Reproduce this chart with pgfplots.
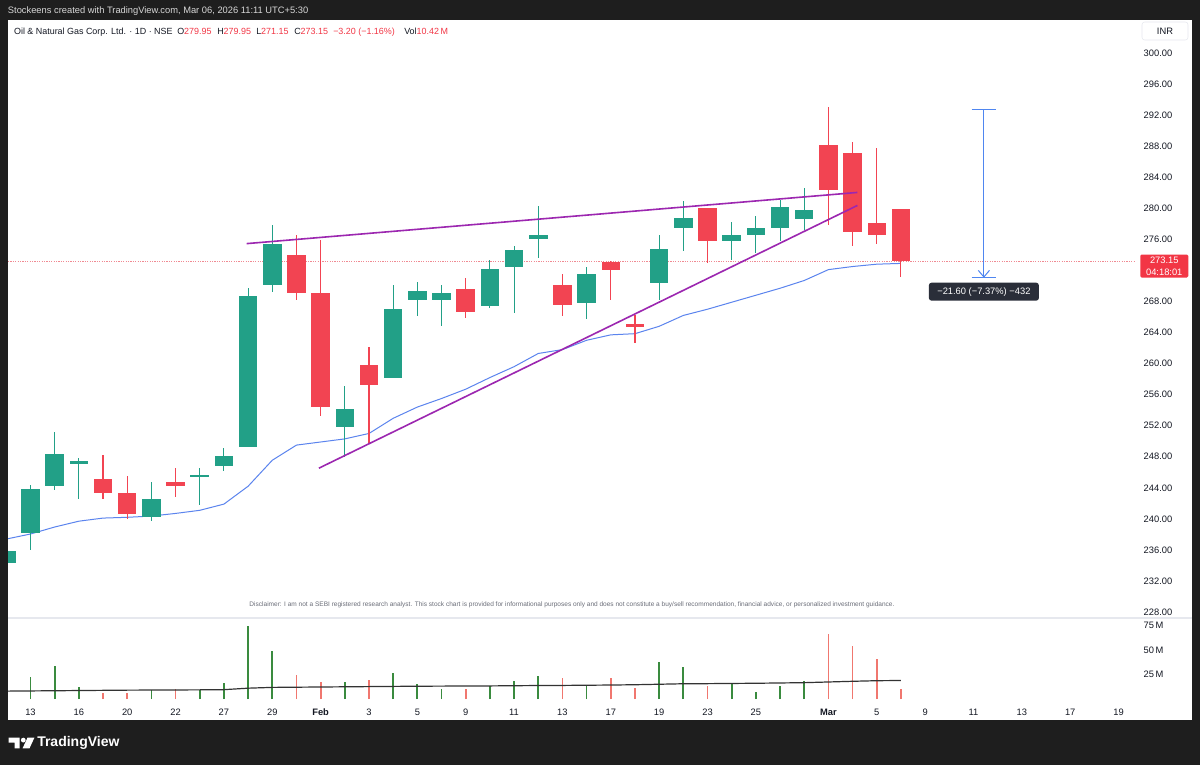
\documentclass[border=0pt]{standalone}
\usepackage{pgfplots}
\pgfplotsset{compat=1.18}
\usepackage{pgfplotstable}
\usepackage{fontspec}
\setmainfont{Liberation Sans}
\definecolor{bg}{HTML}{1E1E1E}
\definecolor{tvup}{HTML}{22A087}
\definecolor{tvdn}{HTML}{F24452}
\definecolor{tvred}{HTML}{F23645}
\definecolor{tvtext}{HTML}{131722}
\definecolor{maline}{HTML}{5B84EE}
\definecolor{trend}{HTML}{9C27B0}
\definecolor{measure}{HTML}{4F86F0}
\definecolor{vgreen}{HTML}{3A8B3F}
\definecolor{vred}{HTML}{F0776F}
\definecolor{sep}{HTML}{E6E8EE}
\definecolor{titlegray}{HTML}{D8D8D8}
\definecolor{boxdark}{HTML}{2A2E39}
\definecolor{discl}{HTML}{6A6D78}
\definecolor{dotred}{HTML}{F08A92}

\pgfplotstableread{
i o h l c
0 234.3 236.1 234.0 235.9
1 238.2 244.4 236.0 243.9
2 244.2 251.2 243.7 248.4
3 247.1 247.9 242.6 247.4
6 240.2 244.7 239.7 242.5
8 245.4 246.5 241.8 245.6
9 246.8 249.1 246.1 248.1
10 249.3 269.75 249.2 268.7
11 270.1 277.9 269.2 275.45
14 251.8 257.1 248.0 254.1
16 258.2 270.1 258.1 267.0
17 268.2 270.5 266.1 269.3
18 268.2 270.1 264.8 269.1
20 267.4 273.3 267.2 272.2
21 272.4 275.2 266.5 274.6
22 276.1 280.3 273.6 276.5
24 267.8 272.4 265.8 271.6
27 270.4 276.5 268.25 274.7
28 277.5 280.9 274.46 278.7
30 275.75 278.2 273.3 276.6
31 276.6 279.05 274.3 277.5
32 277.5 281.1 275.75 280.2
33 278.6 282.6 277.25 279.8
}\upcandles

\pgfplotstableread{
i o h l c
4 245.15 248.2 242.5 243.3
5 243.3 245.5 240.0 240.6
7 244.8 246.6 242.8 244.2
12 274.0 276.6 268.2 269.1
13 269.1 275.96 253.3 254.4
15 259.8 262.1 249.8 257.2
19 269.6 271.0 265.85 266.7
23 270.1 271.5 266.1 267.5
25 273.1 273.2 268.2 272.0
26 265.1 266.2 262.7 264.75
29 280.0 280.05 272.9 275.75
34 288.1 293.1 277.8 282.3
35 287.1 288.5 275.2 277.0
36 278.1 287.8 275.45 276.5
37 279.95 279.95 271.15 273.15
}\downcandles

\pgfplotstableread{
i ma
0 237.4
1 238.05
2 238.95
3 239.7
4 240.1
5 240.2
6 240.36
7 240.7
8 241.1
9 241.9
10 244.2
11 247.55
12 249.5
13 249.9
14 250.3
15 251.0
16 252.95
17 254.4
18 255.5
19 256.7
20 258.2
21 259.6
22 261.3
23 261.8
24 263.0
25 263.7
26 263.85
27 264.8
28 266.2
29 267.0
30 267.9
31 268.8
32 269.7
33 270.7
34 272.1
35 272.5
36 272.8
37 272.9
}\maline

\pgfplotstableread{
i v
1 22.4
2 33.2
3 12.2
6 9.5
8 9.1
9 16.0
10 73.9
11 48.5
14 17.3
16 26.4
17 15.2
18 10.5
20 13.2
21 18.3
22 23.0
24 13.9
27 37.9
28 32.5
30 16.3
31 7.4
32 13.5
33 18.6
}\volup

\pgfplotstableread{
i v
4 6.1
5 6.1
7 10.5
12 24.4
13 17.3
15 19.6
19 10.5
23 21.0
25 21.7
26 11.5
29 13.2
34 66.4
35 54.2
36 41.0
37 10.42
}\voldn

\pgfplotstableread{
i vma
0 8.0
1 8.2
2 8.4
3 8.6
4 8.8
5 9.0
6 9.1
7 9.2
8 9.3
9 9.5
10 11.0
11 11.8
12 12.0
13 12.2
14 12.4
15 12.6
16 12.8
17 13.0
18 13.1
19 13.2
20 13.3
21 13.5
22 13.7
23 13.8
24 14.0
25 14.2
26 14.5
27 15.0
28 15.5
29 15.6
30 15.8
31 16.0
32 16.3
33 16.6
34 17.3
35 18.0
36 18.6
37 18.8
}\volma

\newcommand\sz{\fontsize{7}{8.5}\selectfont}
\newcommand\lgd{\fontsize{6.7}{8}\selectfont}

\begin{document}
\begin{tikzpicture}
\useasboundingbox (0,0) rectangle (900pt,573.75pt);
\begin{scope}[x=0.75pt,y=-0.75pt,shift={(0pt,573.75pt)}]
  \fill[bg] (0,0) rectangle (1200,765);
  \fill[white] (8,20) rectangle (1192,720);
  \fill[sep] (8,616.5) rectangle (1192,618.5);
  \node[anchor=west, inner sep=0pt, text=titlegray, font=\sz] at (7.7,11) {Stockeens created with TradingView.com, Mar 06, 2026 11:11 UTC+5:30};
  \node[anchor=base west, inner sep=0pt, text=tvtext, font=\lgd] at (13.8,34.5) {Oil \& Natural Gas Corp. Ltd. · 1D · NSE};
  \node[anchor=base west, inner sep=0pt, text=tvtext, font=\lgd] at (177,34.5) {O\textcolor{tvred}{279.95}};
  \node[anchor=base west, inner sep=0pt, text=tvtext, font=\lgd] at (217,34.5) {H\textcolor{tvred}{279.95}};
  \node[anchor=base west, inner sep=0pt, text=tvtext, font=\lgd] at (256,34.5) {L\textcolor{tvred}{271.15}};
  \node[anchor=base west, inner sep=0pt, text=tvtext, font=\lgd] at (294,34.5) {C\textcolor{tvred}{273.15}};
  \node[anchor=base west, inner sep=0pt, text=tvred, font=\lgd] at (333,34.5) {−3.20 (−1.16\%)};
  \node[anchor=base west, inner sep=0pt, text=tvtext, font=\lgd] at (404,34.5) {Vol\textcolor{tvred}{10.42\,M}};
  \node[draw=sep, fill=white, rounded corners=2pt, minimum width=34.5pt, minimum height=13.5pt, inner sep=0pt, text=tvtext, font=\sz] at (1165,31) {INR};
  \node[inner sep=0pt, text=discl, font=\fontsize{4.9}{6}\selectfont] at (572,605) {Disclaimer: I am not a SEBI registered research analyst. This stock chart is provided for informational purposes only and does not constitute a buy/sell recommendation, financial advice, or personalized investment guidance.};
  % logo
  \fill[white] (8.5,737.7) -- (19.5,737.7) -- (19.5,748.3) -- (14.5,748.3) -- (14.5,742.5) -- (8.5,742.5) -- cycle;
  \fill[white] (23.3,740.1) circle (2.4);
  \fill[white] (27.5,737.7) -- (34.4,737.7) -- (29.5,748.3) -- (22.6,748.3) -- cycle;
  \node[anchor=west, inner sep=0pt, text=white, font=\fontsize{10.5}{12}\selectfont\bfseries] at (37,743) {TradingView};
\end{scope}

% ---------- price pane ----------
\begin{axis}[
  at={(6pt,111pt)}, anchor=south west,
  width=845.25pt, height=447.75pt, scale only axis,
  xmin=0.07, xmax=46.68, ymin=227.36, ymax=304.25,
  axis line style={draw=none}, major tick length=0pt,
  xtick=\empty, ytick={228,232,236,240,244,248,252,256,260,264,268,276,280,284,288,292,296,300},
  yticklabel pos=right,
  yticklabel style={font=\sz, text=tvtext, xshift=3pt,
    /pgf/number format/.cd, fixed, fixed zerofill, precision=2, assume math mode=true},
  clip mode=individual,
]
% dotted last price line
\addplot[dotred, line width=0.75pt, dash pattern=on 0.9pt off 0.9pt] coordinates {(0.07,273.15) (46.68,273.15)};
% moving average
\addplot[maline, line width=0.75pt] table[x=i, y=ma] {\maline};
% wicks
\addplot[draw=none, mark=none, forget plot, error bars/.cd, y dir=both, y explicit, error mark=none,
  error bar style={draw=tvup, line width=0.8pt}]
  table[x=i, y expr={(\thisrow{h}+\thisrow{l})/2}, y error expr={(\thisrow{h}-\thisrow{l})/2}] {\upcandles};
\addplot[draw=none, mark=none, forget plot, error bars/.cd, y dir=both, y explicit, error mark=none,
  error bar style={draw=tvdn, line width=0.8pt}]
  table[x=i, y expr={(\thisrow{h}+\thisrow{l})/2}, y error expr={(\thisrow{h}-\thisrow{l})/2}] {\downcandles};
% bodies
\addplot[draw=none, mark=none, forget plot, error bars/.cd, y dir=both, y explicit, error mark=none,
  error bar style={draw=tvup, line width=13.9pt}]
  table[x=i, y expr={(\thisrow{o}+\thisrow{c})/2}, y error expr={abs(\thisrow{c}-\thisrow{o})/2}] {\upcandles};
\addplot[draw=none, mark=none, forget plot, error bars/.cd, y dir=both, y explicit, error mark=none,
  error bar style={draw=tvdn, line width=13.9pt}]
  table[x=i, y expr={(\thisrow{o}+\thisrow{c})/2}, y error expr={abs(\thisrow{c}-\thisrow{o})/2}] {\downcandles};
% trend lines
\addplot[trend, line width=1.2pt] coordinates {(9.94,275.45) (35.2,282.04)};
\addplot[trend, line width=1.2pt] coordinates {(12.93,246.53) (35.2,280.37)};
% measure tool
\addplot[measure, line width=0.75pt] coordinates {(40.43,292.75) (40.43,271.15)};
\addplot[measure, line width=0.75pt] coordinates {(39.92,292.75) (40.94,292.75)};
\addplot[measure, line width=0.75pt] coordinates {(39.92,271.15) (40.94,271.15)};
\addplot[measure, line width=0.75pt] coordinates {(40.2,272.0) (40.43,271.15) (40.66,272.0)};
\node[fill=boxdark, text=white, rounded corners=2pt, minimum width=82.5pt, minimum height=13.5pt, inner sep=0pt, font=\sz] at (axis cs:40.43,269.26) {−21.60 (−7.37\%) −432};
% last price label
\node[fill=tvred, text=white, anchor=west, inner sep=0pt, minimum width=36pt, minimum height=17.25pt, align=center, rounded corners=1pt, font=\fontsize{7}{9.2}\selectfont, xshift=3.75pt, yshift=-3.4pt] at (axis cs:46.68,273.15) {273.15\\04:18:01};
\end{axis}

% ---------- volume pane ----------
\begin{axis}[
  at={(6pt,49.5pt)}, anchor=south west,
  width=845.25pt, height=59.25pt, scale only axis,
  xmin=0.07, xmax=46.68, ymin=0, ymax=80.3,
  axis line style={draw=none}, major tick length=0pt,
  ytick={25,50,75}, yticklabels={25\,M,50\,M,75\,M},
  yticklabel pos=right,
  yticklabel style={font=\sz, text=tvtext, xshift=3pt},
  xtick={1,3,5,7,9,11,13,15,17,19,21,23,25,27,29,31,34,36,38,40,42,44,46},
  xticklabels={13,16,20,22,27,29,\textbf{Feb},3,5,9,11,13,17,19,23,25,\textbf{Mar},5,9,11,13,17,19},
  xticklabel style={font=\sz, text=tvtext, yshift=-4pt},
  clip mode=individual,
]
\addplot[ycomb, vgreen, line width=1.3pt] table[x=i, y=v] {\volup};
\addplot[ycomb, vred, line width=1.3pt] table[x=i, y=v] {\voldn};
\addplot[black!80, line width=0.9pt] table[x=i, y=vma] {\volma};
\end{axis}
\end{tikzpicture}
\end{document}
